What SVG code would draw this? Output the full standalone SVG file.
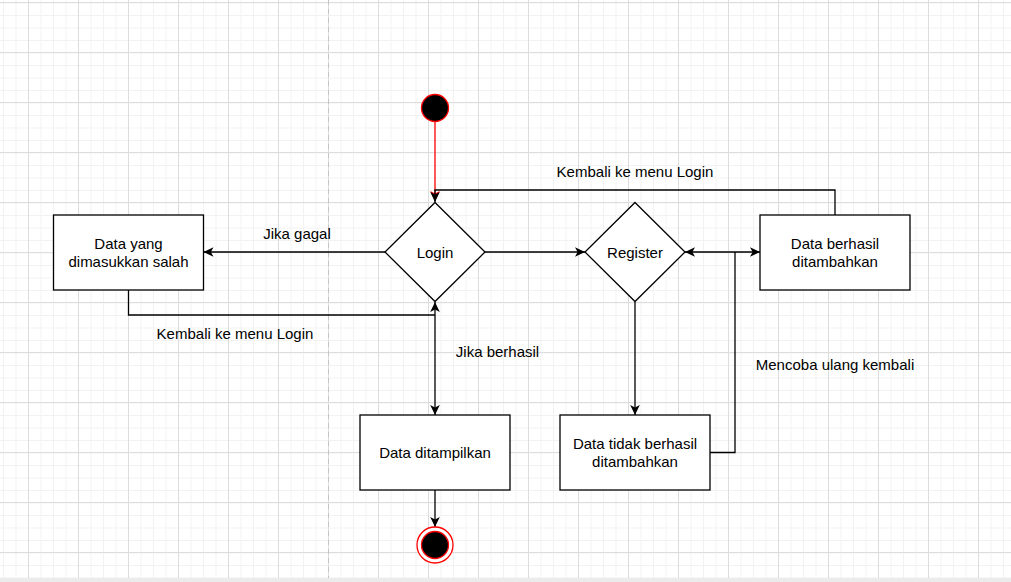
<svg xmlns="http://www.w3.org/2000/svg" width="1011" height="582" viewBox="0 0 1011 582">
<defs>
<pattern id="minor" patternUnits="userSpaceOnUse" x="3" y="2.5" width="12.5" height="12.5">
<path d="M0.5,0 V12.5 M0,0.5 H12.5" stroke="#f2f2f2" stroke-width="1" fill="none"/>
</pattern>
<pattern id="major" patternUnits="userSpaceOnUse" x="28" y="2" width="50" height="50">
<path d="M0.5,0 V50 M0,0.5 H50" stroke="#dddddd" stroke-width="1" fill="none"/>
</pattern>
<marker id="arr" viewBox="-1 -6 12 12" refX="10" refY="0" markerWidth="12" markerHeight="12" markerUnits="userSpaceOnUse" orient="auto-start-reverse">
<path d="M0,-4.8 L10,0 L0,4.8 L2.6,0 Z" fill="#000"/>
</marker>
<marker id="arrRed" viewBox="-1 -6 12 12" refX="10" refY="0" markerWidth="12" markerHeight="12" markerUnits="userSpaceOnUse" orient="auto">
<path d="M0,-4.8 L10,0 L0,4.8 L2.6,0 Z" fill="#ff0000"/>
</marker>
</defs>
<style>
.box{fill:#fff;stroke:#000;stroke-width:1.3}
.dia{fill:#fff;stroke:#000;stroke-width:1.3}
.t{font-family:"Liberation Sans",Arial,sans-serif;font-size:15px;fill:#000;text-anchor:middle}
.c{fill:none;stroke:#000;stroke-width:1.3}
</style>
<rect width="1011" height="582" fill="#fff"/>
<rect width="1011" height="582" fill="url(#minor)"/>
<rect width="1011" height="582" fill="url(#major)"/>
<line x1="328.5" y1="0" x2="328.5" y2="578" stroke="#c4c4c4" stroke-width="1" stroke-dasharray="5 4"/>
<rect x="0" y="578" width="1011" height="4" fill="#ebebeb"/>

<g id="connectors">
<path d="M435,122 V201" fill="none" stroke="#ff0000" stroke-width="1.3" marker-end="url(#arrRed)"/>
<path class="c" d="M835,215 V190 H435 V202" marker-end="url(#arr)"/>
<path class="c" d="M385,252 H203.5" marker-end="url(#arr)"/>
<path class="c" d="M485,252 H585" marker-end="url(#arr)"/>
<path class="c" d="M128.5,290 V315 H435"/>
<path class="c" d="M435,302 V415" marker-start="url(#arr)" marker-end="url(#arr)"/>
<path class="c" d="M685,252 H760" marker-start="url(#arr)" marker-end="url(#arr)"/>
<path class="c" d="M635,302 V415" marker-end="url(#arr)"/>
<path class="c" d="M710,452.5 H735 V252"/>
<path class="c" d="M435,490 V527" marker-end="url(#arr)"/>
<text class="t" x="297" y="239">Jika gagal</text>
<text class="t" x="235" y="339">Kembali ke menu Login</text>
<text class="t" x="635" y="177">Kembali ke menu Login</text>
<text class="t" x="497.5" y="357">Jika berhasil</text>
<text class="t" x="835" y="370">Mencoba ulang kembali</text>
</g>

<g id="start">
<circle cx="435" cy="108" r="13.5" fill="#000" stroke="#ff0000" stroke-width="1.3"/>
</g>

<g id="login">
<path class="dia" d="M435,202.5 L485,252 L435,301.5 L385,252 Z"/>
<text class="t" x="435" y="257.5">Login</text>
</g>

<g id="register">
<path class="dia" d="M635,202.5 L685,252 L635,301.5 L585,252 Z"/>
<text class="t" x="635" y="257.5">Register</text>
</g>

<g id="salah">
<rect class="box" x="53.5" y="215" width="150" height="75"/>
<text class="t" x="128.5" y="249">Data yang</text>
<text class="t" x="128.5" y="267">dimasukkan salah</text>
</g>

<g id="berhasil">
<rect class="box" x="760" y="215" width="150" height="75"/>
<text class="t" x="835" y="249">Data berhasil</text>
<text class="t" x="835" y="267">ditambahkan</text>
</g>

<g id="ditampilkan">
<rect class="box" x="360" y="415" width="150" height="75"/>
<text class="t" x="435" y="457.5">Data ditampilkan</text>
</g>

<g id="tidak">
<rect class="box" x="560" y="415" width="150" height="75"/>
<text class="t" x="635" y="449">Data tidak berhasil</text>
<text class="t" x="635" y="467">ditambahkan</text>
</g>

<g id="end">
<circle cx="435" cy="545" r="18" fill="#fff" stroke="#ff0000" stroke-width="1.3"/>
<circle cx="435" cy="545" r="13.5" fill="#000" stroke="#ff0000" stroke-width="1.3"/>
</g>
</svg>
